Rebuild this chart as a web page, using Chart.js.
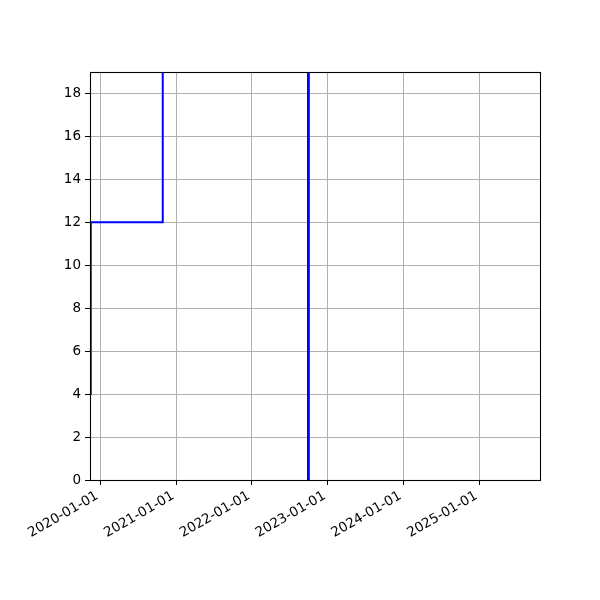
<!DOCTYPE html>
<html>
<head>
<meta charset="utf-8">
<script src="https://cdn.jsdelivr.net/npm/chart.js@4.4.1/dist/chart.umd.min.js"></script>
<style>
html,body{margin:0;padding:0;background:#fff;}
#wrap{width:600px;height:600px;}
</style>
</head>
<body>
<div id="wrap"><canvas id="c" width="600" height="600"></canvas></div>
<script>
// Data (dates as YYYY-MM-DD, values)
const seriesDates = ['2019-11-15','2019-11-16','2020-10-28','2022-09-28','2022-10-02'];
const seriesValues = [4, 12, 40, -5, 40];
const xTickLabels = ['2020-01-01','2021-01-01','2022-01-01','2023-01-01','2024-01-01','2025-01-01'];
const yTickValues = [0,2,4,6,8,10,12,14,16,18];
const xRange = ['2019-11-12','2025-10-20'];
const yRange = [0, 19];

const toMs = s => Date.parse(s + 'T00:00:00Z');
const points = seriesDates.map((d,i)=>({x: toMs(d), y: seriesValues[i]}));
const xTickMs = xTickLabels.map(toMs);

const framePlugin = {
  id: 'frame',
  afterDraw(chart){
    const a = chart.chartArea, ctx = chart.ctx;
    ctx.save();
    ctx.strokeStyle = '#000';
    ctx.lineWidth = 1.1;
    ctx.strokeRect(Math.round(a.left)+0.5, Math.round(a.top)+0.5, Math.round(a.right-a.left), Math.round(a.bottom-a.top));
    ctx.restore();
  }
};

const font = {family: '"DejaVu Sans", sans-serif', size: 13.5};

new Chart(document.getElementById('c'), {
  type: 'line',
  data: {
    datasets: [{
      data: points,
      borderColor: '#0000ff',
      borderWidth: 2,
      pointRadius: 0,
      stepped: 'before',
      fill: false,
      clip: 0
    }]
  },
  options: {
    responsive: false,
    animation: false,
    events: [],
    layout: {padding: {top: 72, right: 60, left: 0, bottom: 0}},
    plugins: {legend: {display: false}, tooltip: {enabled: false}},
    scales: {
      x: {
        type: 'linear',
        min: toMs(xRange[0]) + 10*3600*1000,
        max: toMs(xRange[1]),
        afterBuildTicks: s => { s.ticks = xTickMs.map(v=>({value:v})); },
        afterFit: s => { s.height = 120; },
        border: {display: false},
        grid: {color: '#b0b0b0', lineWidth: 1, tickColor: '#000', tickLength: 5, drawTicks: true},
        ticks: {
          color: '#000', font: font, minRotation: 30, maxRotation: 30, padding: 3, labelOffset: -3, autoSkip: false,
          callback: (v) => { const i = xTickMs.indexOf(v); return i >= 0 ? xTickLabels[i] : ''; }
        }
      },
      y: {
        type: 'linear',
        min: yRange[0],
        max: yRange[1],
        afterBuildTicks: s => { s.ticks = yTickValues.map(v=>({value:v})); },
        afterFit: s => { s.width = 90; },
        border: {display: false},
        grid: {color: '#b0b0b0', lineWidth: 1, tickColor: '#000', tickLength: 5, drawTicks: true},
        ticks: {color: '#000', font: font, padding: 4, autoSkip: false}
      }
    }
  },
  plugins: [framePlugin]
});
</script>
</body>
</html>
